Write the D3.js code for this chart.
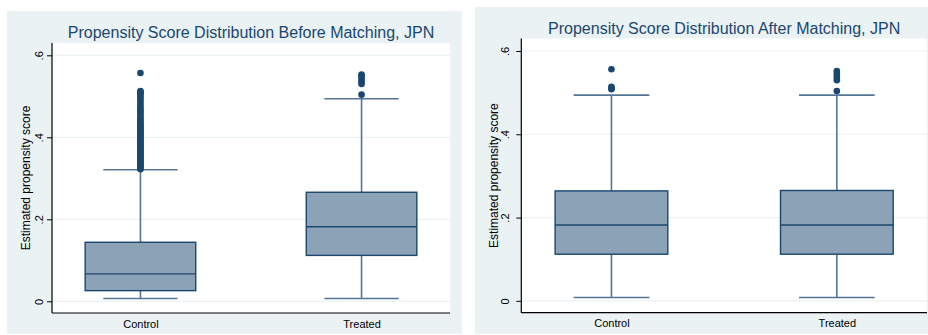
<!DOCTYPE html>
<html>
<head>
<meta charset="utf-8">
<script src="https://cdn.jsdelivr.net/npm/d3@7"></script>
<style>
  html, body { margin: 0; padding: 0; background: #ffffff; }
  svg { display: block; }
  text { font-family: "Liberation Sans", Arial, sans-serif; }
</style>
</head>
<body>
<svg id="chart" width="928" height="335"></svg>
<script>
// Groups on the x axis
const groups = ["Control", "Treated"];

// Y axis ticks and their printed labels
const yTicks = [0, 0.2, 0.4, 0.6];
const yTickLabels = ["0", ".2", ".4", ".6"];

// Box statistics: [lower whisker, Q1, median, Q3, upper whisker]
const beforeControl = [0.007, 0.026, 0.067, 0.144, 0.321];
const beforeTreated = [0.007, 0.112, 0.182, 0.266, 0.494];
const afterControl  = [0.008, 0.112, 0.182, 0.264, 0.494];
const afterTreated  = [0.008, 0.112, 0.182, 0.265, 0.494];

// Outside values
const beforeControlOut = [0.322, 0.325, 0.328, 0.331, 0.334, 0.337, 0.340, 0.343, 0.346, 0.349,
  0.352, 0.355, 0.358, 0.361, 0.364, 0.367, 0.370, 0.373, 0.376, 0.379, 0.382, 0.385, 0.388,
  0.391, 0.394, 0.397, 0.400, 0.403, 0.406, 0.409, 0.412, 0.415, 0.418, 0.421, 0.424, 0.427,
  0.430, 0.434, 0.438, 0.442, 0.446, 0.450, 0.455, 0.460, 0.464, 0.468, 0.473, 0.478, 0.484,
  0.490, 0.495, 0.500, 0.505, 0.508, 0.511, 0.513, 0.557];
const beforeTreatedOut = [0.504, 0.530, 0.535, 0.540, 0.545, 0.550, 0.553];
const afterControlOut  = [0.508, 0.511, 0.514, 0.556];
const afterTreatedOut  = [0.504, 0.530, 0.535, 0.541, 0.547, 0.552];

const titles = [
  "Propensity Score Distribution Before Matching, JPN",
  "Propensity Score Distribution After Matching, JPN"
];
const yTitle = "Estimated propensity score";

const NAVY = "#1a476f";
const BOX_FILL = "#8ca3b7";
const WHISKER = "#557596";
const BG = "#eaf2f3";

const svg = d3.select("#chart");

function drawPanel(cfg) {
  const g = svg.append("g");

  // outer graph region
  g.append("rect")
    .attr("x", cfg.bg[0]).attr("y", cfg.bg[1])
    .attr("width", cfg.bg[2]).attr("height", cfg.bg[3])
    .attr("fill", BG);

  const x = d3.scalePoint().domain(groups)
    .range([cfg.left, cfg.right]).padding(0.4);
  const y = d3.scaleLinear().domain([-0.0285, 0.63])
    .range([cfg.bottom, cfg.top]);

  // plot region
  g.append("rect")
    .attr("x", cfg.left).attr("y", cfg.top)
    .attr("width", cfg.right - cfg.left).attr("height", cfg.bottom - cfg.top)
    .attr("fill", "#ffffff");

  // horizontal grid
  g.selectAll("line.grid").data(yTicks).join("line")
    .attr("class", "grid")
    .attr("x1", cfg.left).attr("x2", cfg.right)
    .attr("y1", d => y(d)).attr("y2", d => y(d))
    .attr("stroke", BG).attr("stroke-width", 1.2);

  const step = x.step();
  const boxW = step * 0.5;
  const capW = step * 0.336;

  const boxes = groups.map((k, i) => ({ key: k, s: cfg.stats[i], out: cfg.outs[i] }));

  const bg = g.selectAll("g.box").data(boxes).join("g").attr("class", "box");

  // whiskers
  bg.append("line")
    .attr("x1", d => x(d.key)).attr("x2", d => x(d.key))
    .attr("y1", d => y(d.s[3])).attr("y2", d => y(d.s[4]))
    .attr("stroke", WHISKER).attr("stroke-width", 1.6);
  bg.append("line")
    .attr("x1", d => x(d.key)).attr("x2", d => x(d.key))
    .attr("y1", d => y(d.s[1])).attr("y2", d => y(d.s[0]))
    .attr("stroke", WHISKER).attr("stroke-width", 1.6);
  // caps
  [0, 4].forEach(j => {
    bg.append("line")
      .attr("x1", d => x(d.key) - capW / 2).attr("x2", d => x(d.key) + capW / 2)
      .attr("y1", d => y(d.s[j])).attr("y2", d => y(d.s[j]))
      .attr("stroke", WHISKER).attr("stroke-width", 1.6);
  });

  // box
  bg.append("rect")
    .attr("x", d => x(d.key) - boxW / 2)
    .attr("y", d => y(d.s[3]))
    .attr("width", boxW)
    .attr("height", d => y(d.s[1]) - y(d.s[3]))
    .attr("fill", BOX_FILL).attr("stroke", NAVY).attr("stroke-width", 1.4);
  // median
  bg.append("line")
    .attr("x1", d => x(d.key) - boxW / 2).attr("x2", d => x(d.key) + boxW / 2)
    .attr("y1", d => y(d.s[2])).attr("y2", d => y(d.s[2]))
    .attr("stroke", NAVY).attr("stroke-width", 1.4);

  // outside values
  bg.selectAll("circle").data(d => d.out.map(v => ({ key: d.key, v }))).join("circle")
    .attr("cx", d => x(d.key)).attr("cy", d => y(d.v))
    .attr("r", 3.3).attr("fill", NAVY);

  // y axis
  const yAxis = g.append("g")
    .attr("transform", `translate(${cfg.left},0)`)
    .call(d3.axisLeft(y).tickValues(yTicks)
      .tickFormat((d, i) => yTickLabels[i]).tickSize(5).tickSizeOuter(0));
  yAxis.select(".domain").attr("stroke", "#000").attr("stroke-width", 1.2)
    .attr("d", `M0,${cfg.top}V${cfg.bottom}`);
  yAxis.selectAll(".tick line").attr("stroke", "#000");
  yAxis.selectAll(".tick text")
    .attr("x", 0).attr("y", 0).attr("dy", null)
    .attr("transform", `translate(${-cfg.tickOff},0) rotate(-90)`)
    .attr("text-anchor", "middle")
    .attr("font-size", 11).attr("fill", "#000")
    .attr("font-family", "'Liberation Sans', Arial, sans-serif");

  // x axis
  const xAxis = g.append("g")
    .attr("transform", `translate(0,${cfg.bottom})`)
    .call(d3.axisBottom(x).tickSize(0).tickPadding(7));
  xAxis.select(".domain").attr("stroke", "#000").attr("stroke-width", 1.2)
    .attr("d", `M${cfg.left},0H${cfg.right}`);
  xAxis.selectAll(".tick text")
    .attr("font-size", 11).attr("fill", "#000")
    .attr("font-family", "'Liberation Sans', Arial, sans-serif");

  // y axis title
  g.append("text")
    .attr("transform", `translate(${cfg.left - cfg.yTitleOff},${(cfg.top + cfg.bottom) / 2}) rotate(-90)`)
    .attr("text-anchor", "middle")
    .attr("font-size", 12).attr("fill", "#000")
    .text(yTitle);

  // title
  g.append("text")
    .attr("x", (cfg.left + cfg.right) / 2)
    .attr("y", cfg.top - 5)
    .attr("text-anchor", "middle")
    .attr("font-size", 16).attr("fill", NAVY)
    .text(cfg.title);
}

drawPanel({
  bg: [7, 11, 455, 323],
  left: 52, right: 450, top: 43, bottom: 313,
  tickOff: 9.5, yTitleOff: 22,
  stats: [beforeControl, beforeTreated],
  outs: [beforeControlOut, beforeTreatedOut],
  title: titles[0]
});

drawPanel({
  bg: [475, 7, 453, 327],
  left: 521.3, right: 927, top: 38.5, bottom: 312.7,
  tickOff: 12, yTitleOff: 23,
  stats: [afterControl, afterTreated],
  outs: [afterControlOut, afterTreatedOut],
  title: titles[1]
});
</script>
</body>
</html>
